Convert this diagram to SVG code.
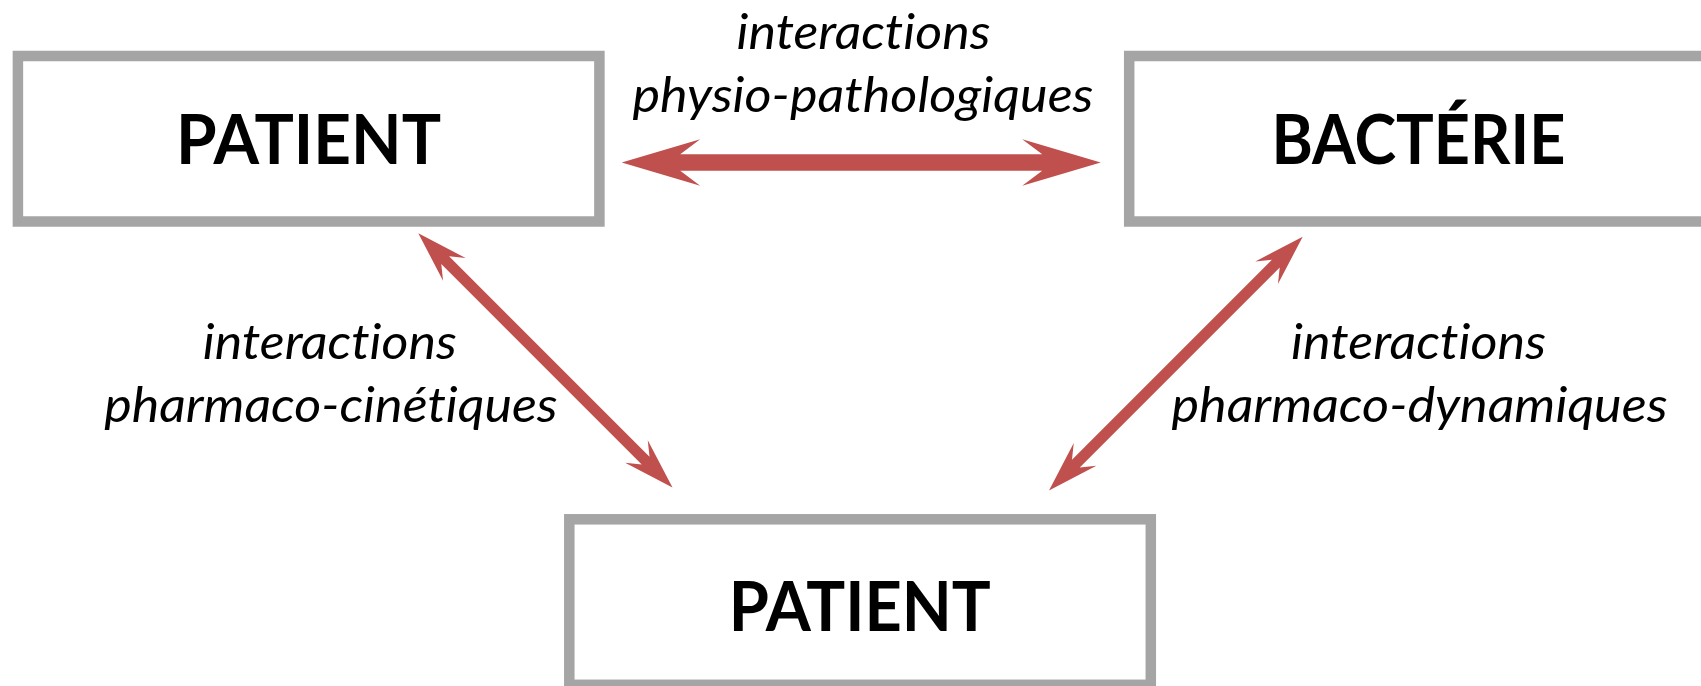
<svg xmlns="http://www.w3.org/2000/svg" width="1701" height="686" viewBox="0 0 1701 686">
<style>
.box{fill:#FFFFFF;stroke:#A5A5A5;stroke-width:10.5}
.title{font-family:Lato,"Open Sans","Liberation Sans",sans-serif;font-weight:bold;font-size:68px;fill:#000000;text-anchor:middle;font-variant-ligatures:none;font-feature-settings:"liga" 0,"clig" 0}
.lbl{font-family:Lato,"Open Sans","Liberation Sans",sans-serif;font-style:italic;font-size:48px;fill:#000000;text-anchor:middle;font-variant-ligatures:none;font-feature-settings:"liga" 0,"clig" 0,"dlig" 0}
.arr{fill:#C0504D;stroke:none}
</style>
<rect x="0" y="0" width="1701" height="686" fill="#FFFFFF"/>
<g id="node-patient-1">
<rect class="box" x="17.9" y="56" width="581.5" height="165.5"/>
<text class="title" x="308.6" y="164" textLength="265" lengthAdjust="spacingAndGlyphs">PATIENT</text>
</g>
<g id="node-bacterie">
<rect class="box" x="1129.2" y="56" width="581.5" height="165.5"/>
<text class="title" x="1418.4" y="164" textLength="294" lengthAdjust="spacingAndGlyphs">BACTÉRIE</text>
</g>
<g id="node-patient-2">
<rect class="box" x="569.3" y="519.3" width="581.5" height="165.5"/>
<text class="title" x="859.8" y="631" textLength="262" lengthAdjust="spacingAndGlyphs">PATIENT</text>
</g>
<g id="connectors">
<polygon class="arr" points="621.7,162.5 700.2,139.2 680.2,154.3 1042.2,154.3 1022.2,139.2 1100.7,162.5 1022.2,185.8 1042.2,170.7 680.2,170.7 700.2,185.8"/>
<polygon class="arr" points="418.3,233.3 465.67,258.05 449.06,256.28 649.52,456.74 647.75,440.13 672.5,487.5 625.13,462.75 641.74,464.52 441.28,264.06 443.05,280.67"/>
<polygon class="arr" points="1302.7,236.7 1277.95,284.07 1279.72,267.46 1079.76,467.42 1096.37,465.65 1049,490.4 1073.75,443.03 1071.98,459.64 1271.94,259.68 1255.33,261.45"/>
</g>
<g id="label-physio">
<text class="lbl" x="863.5" y="48.8" textLength="254" lengthAdjust="spacingAndGlyphs">interactions</text>
<text class="lbl" x="863" y="111.7" textLength="461" lengthAdjust="spacingAndGlyphs">physio-pathologiques</text>
</g>
<g id="label-cinetiques">
<text class="lbl" x="329.8" y="359" textLength="254" lengthAdjust="spacingAndGlyphs">interactions</text>
<text class="lbl" x="330.9" y="422" textLength="453.5" lengthAdjust="spacingAndGlyphs">pharmaco-cinétiques</text>
</g>
<g id="label-dynamiques">
<text class="lbl" x="1418.5" y="359" textLength="255" lengthAdjust="spacingAndGlyphs">interactions</text>
<text class="lbl" x="1419.5" y="422" textLength="496" lengthAdjust="spacingAndGlyphs">pharmaco-dynamiques</text>
</g>
</svg>
